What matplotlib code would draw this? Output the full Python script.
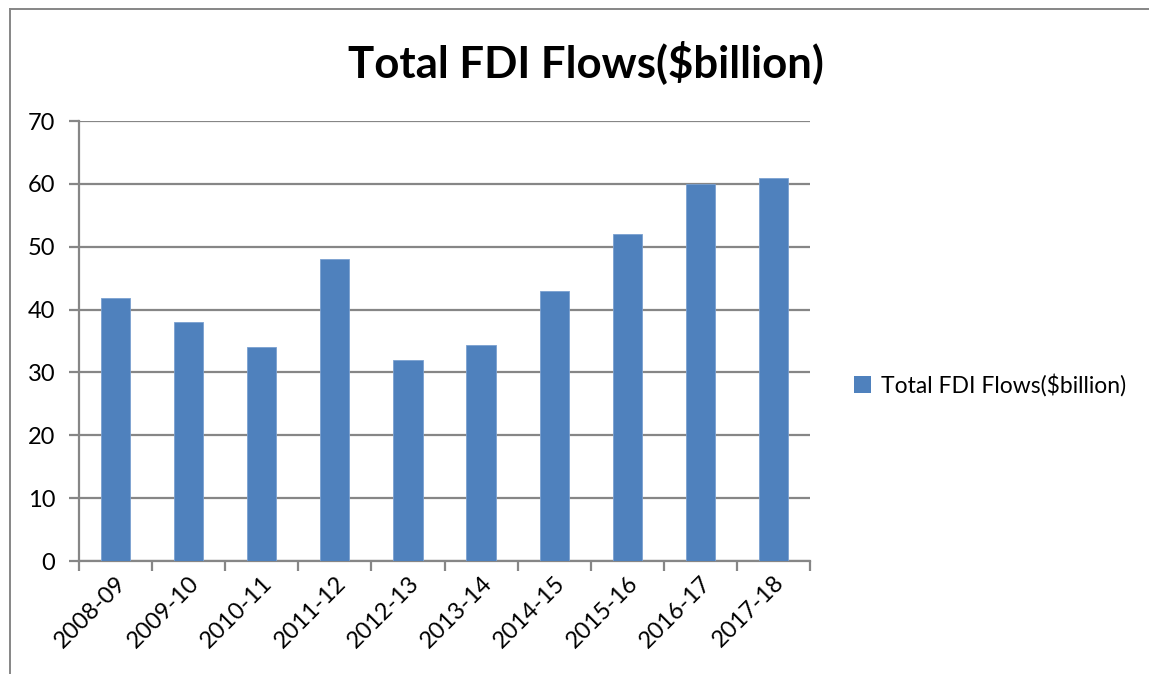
import matplotlib.pyplot as plt
from matplotlib.lines import Line2D
from matplotlib.patches import Patch

years = ["2008-09", "2009-10", "2010-11", "2011-12", "2012-13",
         "2013-14", "2014-15", "2015-16", "2016-17", "2017-18"]
fdi = [41.8, 38.0, 34.0, 48.0, 32.0, 34.3, 43.0, 52.0, 60.0, 61.0]
series_name = "Total FDI Flows($billion)"

plt.rcParams['font.family'] = ['Lato', 'DejaVu Sans']

W, H = 1149, 674
fig = plt.figure(figsize=(W / 100, H / 100), dpi=100)
ax = fig.add_axes([79 / W, 1 - 561 / H, (810 - 79) / W, (561 - 121) / H])

bar_color = "#4f81bd"
grey = "#868686"

x = list(range(len(years)))
ax.bar(x, fdi, width=0.4, color=bar_color, edgecolor="#7aa0d0", linewidth=0.6, zorder=3)

ax.set_xlim(-0.5, len(years) - 0.5)
ax.set_ylim(0, 70)
ax.set_yticks(range(0, 71, 10))
ax.yaxis.grid(True, color=grey, linewidth=1.6, zorder=0)

# category ticks sit between the bars
ax.set_xticks([i - 0.5 for i in range(len(years) + 1)])
ax.set_xticklabels([])
ax.set_xticks(x, minor=True)
ax.set_xticklabels(years, minor=True, rotation=45, ha='right', va='top',
                   rotation_mode='anchor', fontsize=17)
ax.tick_params(axis='x', which='minor', length=0, pad=8)
ax.tick_params(axis='x', which='major', length=7, width=1.6, color=grey, direction='out')
ax.tick_params(axis='y', length=7, width=1.6, color=grey, labelsize=17, pad=10)

for side in ('top', 'right'):
    ax.spines[side].set_visible(False)
for side in ('left', 'bottom'):
    ax.spines[side].set_color(grey)
    ax.spines[side].set_linewidth(1.6)

fig.text(586 / W, 1 - 62 / H, series_name, ha='center', va='center',
         fontsize=31.5, fontweight='bold')

fig.legend(handles=[Patch(facecolor=bar_color, label=series_name)],
           loc='center left', bbox_to_anchor=(833 / W, 1 - 385 / H),
           frameon=False, fontsize=16.5, handlelength=0.75, handleheight=0.75,
           handletextpad=0.45)

# outer chart frame
fig.add_artist(Line2D([10 / W, 1], [1 - 9 / H, 1 - 9 / H], color=grey, linewidth=1.4))
fig.add_artist(Line2D([10 / W, 10 / W], [0, 1 - 9 / H], color=grey, linewidth=1.4))

fig.savefig("out.png", dpi=100)
